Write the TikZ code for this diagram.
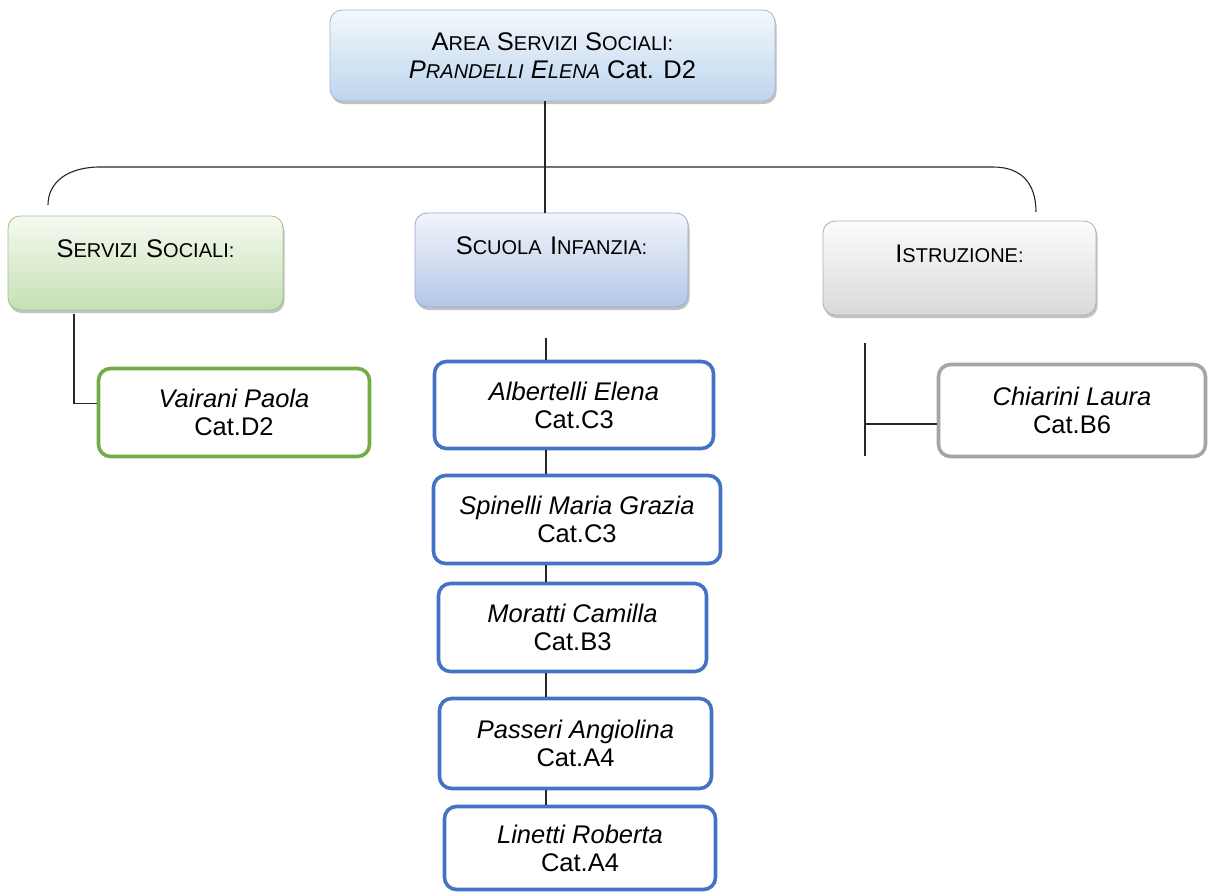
\documentclass[tikz,border=0pt]{standalone}
\usepackage{fontspec}
\setmainfont{Liberation Sans}
\usetikzlibrary{shadows}
\newcommand\CapA[1]{{\fontsize{25.5}{30}\selectfont #1}}
\newcommand\CapB[1]{{\fontsize{20}{30}\selectfont #1}}
\definecolor{bluebd}{HTML}{4472C4}
\definecolor{greenbd}{HTML}{70AD47}
\definecolor{graybd}{HTML}{A5A5A5}
\definecolor{topbd}{RGB}{160,185,215}
\definecolor{toptop}{RGB}{244,248,252}
\definecolor{topbot}{RGB}{189,213,238}
\tikzset{
  head/.style={rounded corners=12pt, line width=0.8pt, inner sep=0pt,
    drop shadow={shadow xshift=1.5pt, shadow yshift=-3pt, opacity=0.4, fill=black!60},
    font=\fontsize{25.5}{30}\selectfont, align=center},
  headtxt/.style={text height=41pt, text depth=53pt, text width=#1},
  person/.style={rounded corners=12pt, line width=3.6pt, fill=white, inner sep=0pt,
    align=center, font=\fontsize{25.5}{28}\selectfont},
  conn/.style={line width=1.1pt, draw=black!85},
}
\begin{document}
\begin{tikzpicture}[x=1pt,y=-1pt]
\useasboundingbox (0,0) rectangle (1208,894);
% top box
\node[head, draw=topbd, top color=toptop, bottom color=topbot,
  minimum width=445pt, minimum height=91pt] (top) at (552.5,55.5)
  {\CapA{A}\CapB{REA} \CapA{S}\CapB{ERVIZI} \CapA{S}\CapB{OCIALI:}\\[-2pt]
   \textit{\CapA{P}\CapB{RANDELLI} \CapA{E}\CapB{LENA}} Cat. D2};
% header boxes
\node[head, headtxt=275pt, draw={rgb,255:red,160;green,196;blue,136}, top color={rgb,255:red,246;green,250;blue,242},
  bottom color={rgb,255:red,197;green,224;blue,180}] (ss) at (145.5,263)
  {\CapA{S}\CapB{ERVIZI} \CapA{S}\CapB{OCIALI:}};
\node[head, headtxt=273pt, draw={rgb,255:red,150;green,170;blue,210}, top color={rgb,255:red,242;green,245;blue,251},
  bottom color={rgb,255:red,180;green,199;blue,231}] (si) at (551.5,260)
  {\CapA{S}\CapB{CUOLA} \CapA{I}\CapB{NFANZIA:}};
\node[head, headtxt=273pt, draw={rgb,255:red,175;green,175;blue,175}, top color={rgb,255:red,252;green,252;blue,252},
  bottom color={rgb,255:red,217;green,217;blue,217}] (is) at (959.5,268)
  {\CapA{I}\CapB{STRUZIONE:}};
% person boxes
\node[person, draw=greenbd, minimum width=271pt, minimum height=88pt] (vai) at (234,412.5)
  {\textit{Vairani Paola}\\Cat.D2};
\node[person, draw=bluebd, minimum width=279pt, minimum height=87pt] (alb) at (574,405)
  {\textit{Albertelli Elena}\\Cat.C3};
\node[person, draw=bluebd, minimum width=287pt, minimum height=88pt] (spi) at (577,519.5)
  {\textit{Spinelli Maria Grazia}\\Cat.C3};
\node[person, draw=bluebd, minimum width=268pt, minimum height=88pt] (mor) at (572.5,627.5)
  {\textit{Moratti Camilla}\\Cat.B3};
\node[person, draw=bluebd, minimum width=272pt, minimum height=90pt] (pas) at (575.5,743.5)
  {\textit{Passeri Angiolina}\\Cat.A4};
\node[person, draw=bluebd, minimum width=271pt, minimum height=83pt] (lin) at (580,848)
  {\textit{Linetti Roberta}\\Cat.A4};
\node[person, draw=graybd, minimum width=267pt, minimum height=92pt] (chi) at (1072,410.5)
  {\textit{Chiarini Laura}\\Cat.B6};
% connector coordinates
\coordinate (vx) at (545,0);
\coordinate (lend) at (48,205);
\coordinate (rend) at (1036,212);
\coordinate (ssd) at (74,314);
\coordinate (sid) at (546,338);
\coordinate (ist1) at (865,343);
\coordinate (ist2) at (865,456);
% connectors
\draw[conn] (top.south -| vx) -- (si.north -| vx);
\draw[conn] (lend) .. controls (48,182) and (68,167) .. (100,167) -- (993,167)
  .. controls (1022,167) and (1036,184) .. (rend);
\draw[conn] (ssd) |- ([yshift=9pt]vai.west);
\draw[conn] (sid) -- (sid |- alb.north);
\draw[conn] (alb.south -| sid) -- (spi.north -| sid);
\draw[conn] (spi.south -| sid) -- (mor.north -| sid);
\draw[conn] (mor.south -| sid) -- (pas.north -| sid);
\draw[conn] (pas.south -| sid) -- (lin.north -| sid);
\draw[conn] (ist1) -- (ist2);
\draw[conn] ([yshift=-13.5pt]chi.west -| ist1) -- ([yshift=-13.5pt]chi.west);
\end{tikzpicture}
\end{document}
